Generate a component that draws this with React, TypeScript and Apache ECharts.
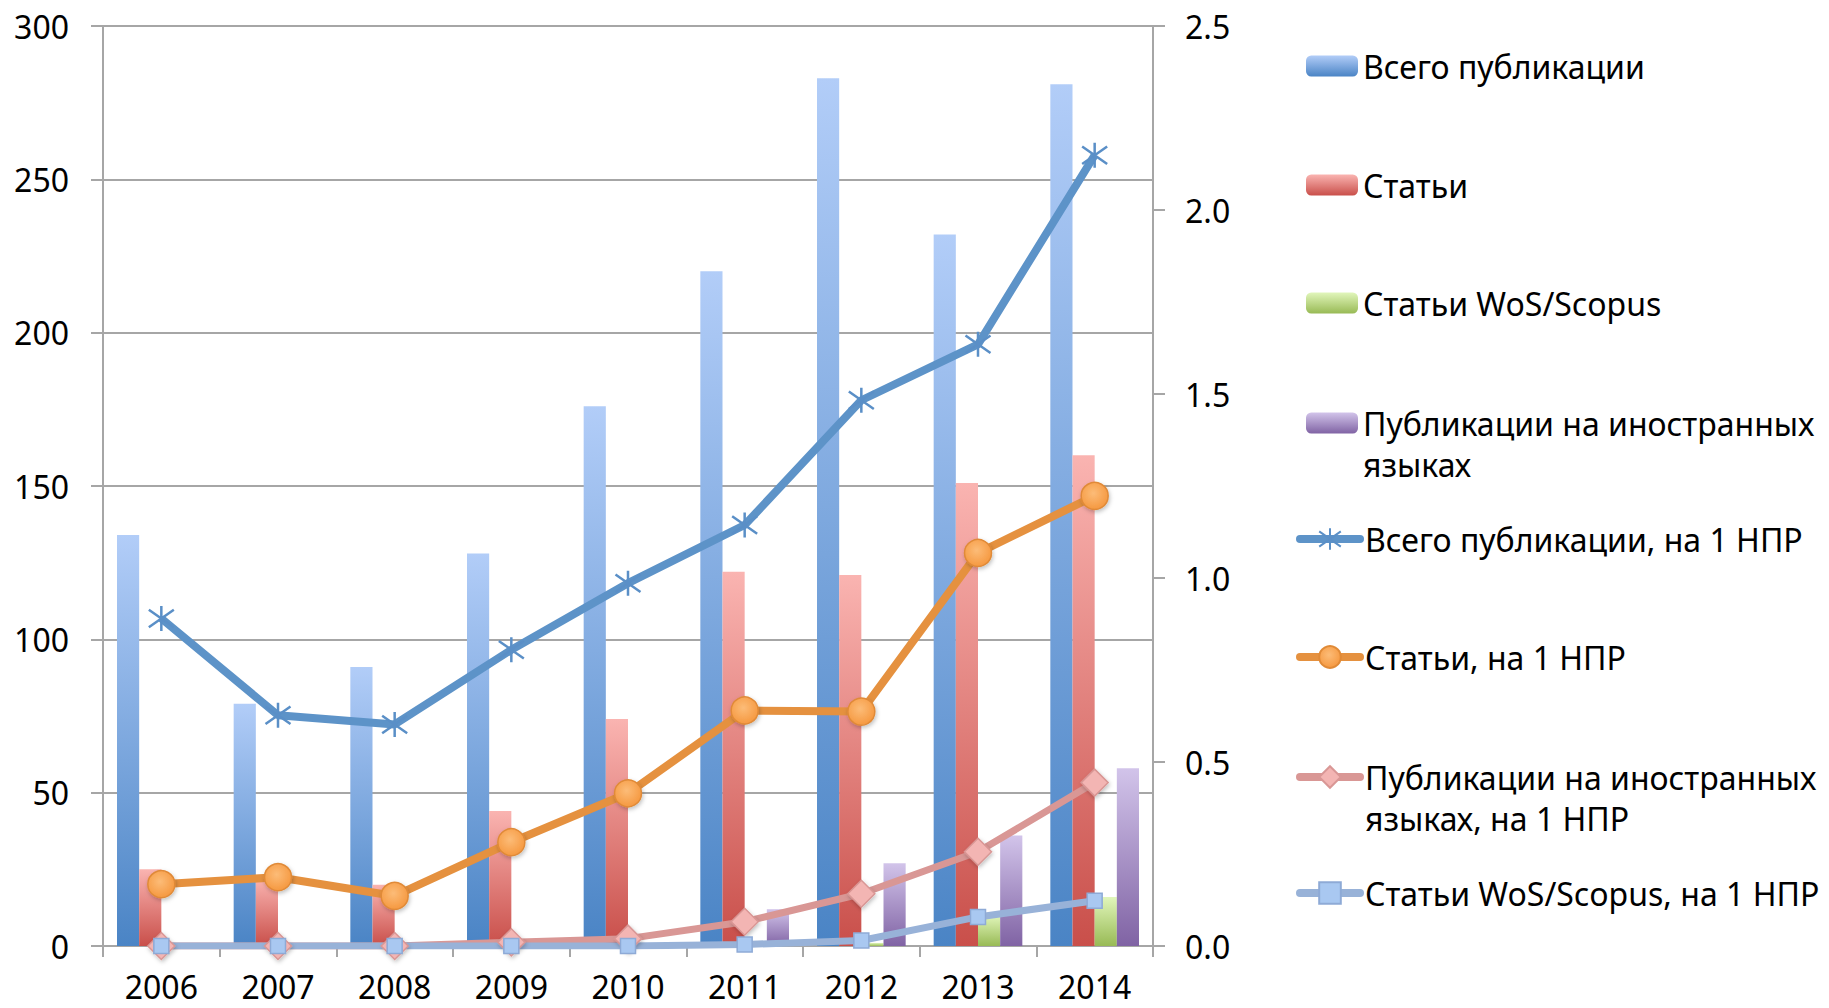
import React, { useEffect, useRef } from 'react';
import * as echarts from 'echarts';

const years = ['2006', '2007', '2008', '2009', '2010', '2011', '2012', '2013', '2014'];
const totalPubs = [134, 79, 91, 128, 176, 220, 283, 232, 281];
const articles = [25, 22, 20, 44, 74, 122, 121, 151, 160];
const wosArticles = [0, 0, 0, 0, 0, 0, 1, 10, 16];
const foreignPubs = [0, 0, 0, 0, 0, 12, 27, 36, 58];
const totalPerNPR = [0.89, 0.627, 0.602, 0.805, 0.986, 1.144, 1.483, 1.635, 2.149];
const articlesPerNPR = [0.168, 0.187, 0.136, 0.282, 0.415, 0.64, 0.637, 1.068, 1.223];
const foreignPerNPR = [0, 0, 0, 0.01, 0.02, 0.066, 0.142, 0.256, 0.444];
const wosPerNPR = [0, 0, 0, 0, 0, 0.004, 0.015, 0.079, 0.123];

const leftTicks = [0, 50, 100, 150, 200, 250, 300];
const rightTicks = [0, 0.5, 1.0, 1.5, 2.0, 2.5];

const names = [
  'Всего публикации',
  'Статьи',
  'Статьи WoS/Scopus',
  'Публикации на иностранных языках',
  'Всего публикации, на 1 НПР',
  'Статьи, на 1 НПР',
  'Публикации на иностранных языках, на 1 НПР',
  'Статьи WoS/Scopus, на 1 НПР',
];

const FONT = 'Noto Sans';
const GRID_COLOR = '#a6a6a6';

const grad = (top: string, bottom: string) => ({
  type: 'linear', x: 0, y: 0, x2: 0, y2: 1,
  colorStops: [{ offset: 0, color: top }, { offset: 1, color: bottom }],
});

const STAR = 'path://M10,0 L10,20 M1,3 L19,17 M1,17 L19,3';
const SHADOW = { shadowColor: 'rgba(0,0,0,0.25)', shadowBlur: 4, shadowOffsetX: 1, shadowOffsetY: 2 };

export default function App() {
  const ref = useRef<HTMLDivElement>(null);
  useEffect(() => {
    if (!ref.current) return;
    const chart = echarts.init(ref.current, undefined, { renderer: 'svg' });

    const legendCenters = [66, 185, 303, 423, 539, 657, 777, 893];
    const lineH = 41;
    const twoLine = (n: string) => n.startsWith('Публикации на иностранных');
    const legends = names.map((n, i) => {
      const isBar = i < 4;
      const tl = twoLine(n);
      return {
        data: [n],
        orient: 'vertical',
        left: isBar ? 1306 : 1296,
        top: legendCenters[i] - (tl ? lineH * 1.5 : lineH / 2),
        padding: 0,
        itemWidth: isBar ? 52 : 60,
        itemHeight: isBar ? 21 : 27,
        selectedMode: false,
        lineStyle: isBar ? undefined : { width: 8, cap: 'round' },
        formatter: (name: string) =>
          twoLine(name) ? '\n' + name.replace('иностранных ', 'иностранных\n') : name,
        textStyle: {
          fontFamily: FONT,
          fontSize: 32,
          color: '#000',
          lineHeight: lineH,
        },
      };
    });

    const barCommon = {
      type: 'bar',
      yAxisIndex: 0,
      barGap: '0%',
      barCategoryGap: '24%',
    };

    chart.setOption({
      animation: false,
      backgroundColor: '#ffffff',
      grid: { left: 103, right: 676, top: 26, bottom: 62, containLabel: false },
      legend: legends,
      xAxis: {
        type: 'category',
        data: years,
        boundaryGap: true,
        axisLine: { show: true, lineStyle: { color: GRID_COLOR, width: 2 } },
        axisTick: { show: true, length: 11, interval: 0, lineStyle: { color: GRID_COLOR, width: 2 } },
        axisLabel: { fontFamily: FONT, fontSize: 32, lineHeight: 20, color: '#000', margin: 30 },
        splitLine: { show: false },
      },
      yAxis: [
        {
          type: 'value',
          min: leftTicks[0],
          max: leftTicks[leftTicks.length - 1],
          interval: leftTicks[1] - leftTicks[0],
          axisLine: { show: true, lineStyle: { color: GRID_COLOR, width: 2 } },
          axisTick: { show: true, length: 12, lineStyle: { color: GRID_COLOR, width: 2 } },
          axisLabel: { fontFamily: FONT, fontSize: 32, color: '#000', margin: 34 },
          splitLine: { show: true, lineStyle: { color: GRID_COLOR, width: 2 } },
        },
        {
          type: 'value',
          position: 'right',
          min: rightTicks[0],
          max: rightTicks[rightTicks.length - 1],
          interval: rightTicks[1] - rightTicks[0],
          axisLine: { show: true, lineStyle: { color: GRID_COLOR, width: 2 } },
          axisTick: { show: true, length: 12, lineStyle: { color: GRID_COLOR, width: 2 } },
          axisLabel: {
            fontFamily: FONT, fontSize: 32, color: '#000', margin: 32,
            formatter: (v: number) => v.toFixed(1),
          },
          splitLine: { show: false },
        },
      ],
      series: [
        { ...barCommon, name: names[0], data: totalPubs, itemStyle: { color: grad('#b2cdf8', '#4a84c5') } },
        { ...barCommon, name: names[1], data: articles, itemStyle: { color: grad('#fab4b1', '#c94f4a') } },
        { ...barCommon, name: names[2], data: wosArticles, itemStyle: { color: grad('#e1f6bb', '#98ba55') } },
        { ...barCommon, name: names[3], data: foreignPubs, itemStyle: { color: grad('#d2c4ea', '#8063a4') } },
        {
          type: 'line', name: names[4], yAxisIndex: 1, data: totalPerNPR,
          symbol: STAR, symbolSize: 25,
          lineStyle: { color: '#5d93c8', width: 8 },
          itemStyle: { color: '#5a8fc7', borderColor: '#5a8fc7', borderWidth: 2.5 },
        },
        {
          type: 'line', name: names[5], yAxisIndex: 1, data: articlesPerNPR,
          symbol: 'circle', symbolSize: 27,
          lineStyle: { color: '#e5913f', width: 8 },
          itemStyle: {
            color: { type: 'radial', x: 0.45, y: 0.4, r: 0.65, colorStops: [{ offset: 0, color: '#fcbc78' }, { offset: 1, color: '#f5963c' }] },
            borderColor: '#e08a37', borderWidth: 1.5, ...SHADOW,
          },
        },
        {
          type: 'line', name: names[6], yAxisIndex: 1, data: foreignPerNPR,
          symbol: 'diamond', symbolSize: 27,
          lineStyle: { color: '#d99795', width: 7 },
          itemStyle: { color: '#f3b5b3', borderColor: '#d99795', borderWidth: 1.5, ...SHADOW },
        },
        {
          type: 'line', name: names[7], yAxisIndex: 1, data: wosPerNPR,
          symbol: 'rect', symbolSize: 15,
          lineStyle: { color: '#98b2d8', width: 7 },
          itemStyle: { color: '#a9c8f1', borderColor: '#8eaad6', borderWidth: 1.5 },
        },
      ],
    });
    return () => chart.dispose();
  }, []);
  return (
    <div
      ref={ref}
      style={{ position: 'fixed', left: 0, top: 0, width: 1829, height: 1008, background: '#fff' }}
    />
  );
}
